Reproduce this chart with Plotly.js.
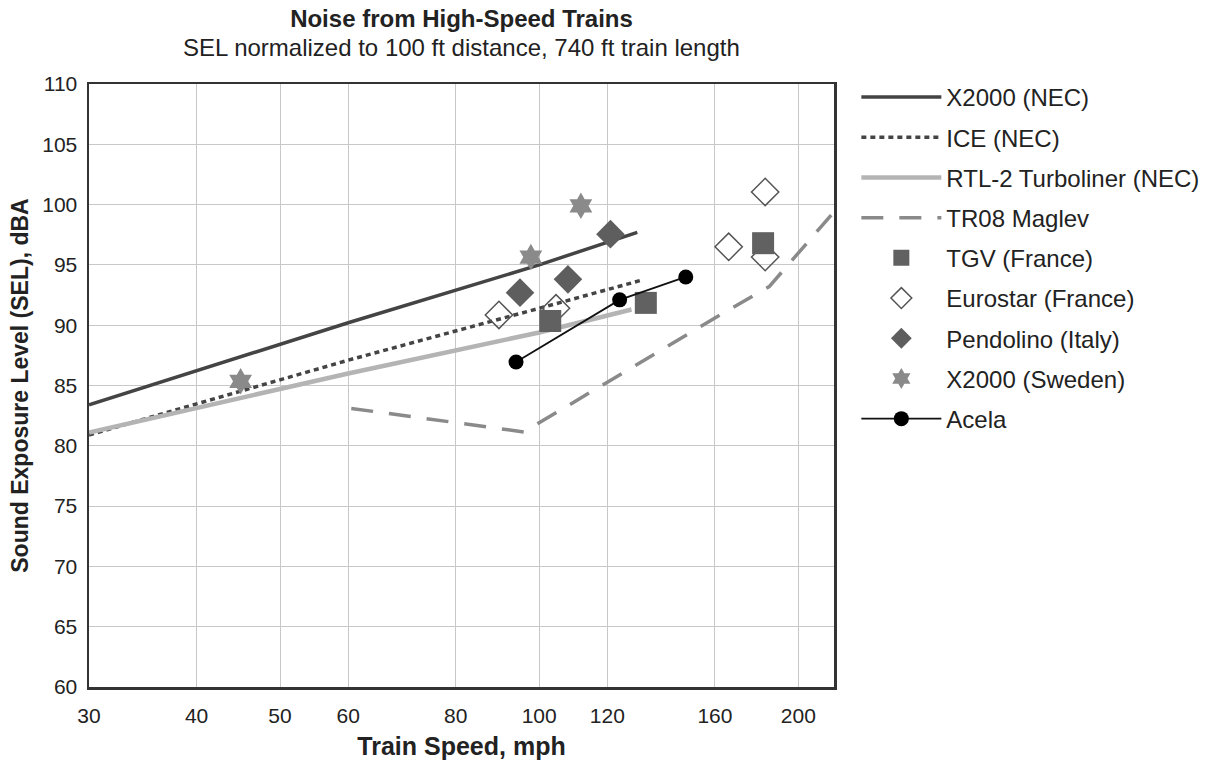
<!DOCTYPE html>
<html>
<head>
<meta charset="utf-8">
<script src="https://cdn.plot.ly/plotly-3.0.1.min.js"></script>
<style>html,body{margin:0;padding:0;background:#fff;}#chart{width:1216px;height:763px;}</style>
</head>
<body>
<div id="chart"></div>
<script>
// Line series (speed mph, SEL dBA)
const x2000NecX = [30, 60, 100, 115, 130];
const x2000NecY = [83.4, 90.2, 95.0, 96.4, 97.7];
const iceNecX = [30, 60, 100, 131];
const iceNecY = [80.9, 87.1, 91.4, 93.7];
const rtl2X = [30, 60, 100, 128];
const rtl2Y = [81.1, 86.0, 89.4, 91.3];
const maglevX = [60.5, 96, 160, 185, 220];
const maglevY = [83.1, 81.15, 90.6, 93.2, 99.4];
// Point series
const tgvX = [103, 133, 182];
const tgvY = [90.35, 91.85, 96.8];
const eurostarX = [89.8, 104.6, 166, 183, 183];
const eurostarY = [90.85, 91.4, 96.5, 101.05, 95.65];
const pendolinoX = [95, 108, 121];
const pendolinoY = [92.7, 93.8, 97.55];
const x2000SweX = [45, 97.8, 111.8];
const x2000SweY = [85.35, 95.65, 99.9];
const acelaX = [94, 124, 148];
const acelaY = [86.95, 92.1, 94.0];

const xTicks = [30, 40, 50, 60, 80, 100, 120, 160, 200];
const yTicks = [60, 65, 70, 75, 80, 85, 90, 95, 100, 105, 110];

const titleText = 'Noise from High-Speed Trains';
const subtitleText = 'SEL normalized to 100 ft distance, 740 ft train length';

const FONT = 'Arial, "Liberation Sans", Helvetica, sans-serif';

const traces = [
  {x: x2000NecX, y: x2000NecY, name: 'X2000 (NEC)', mode: 'lines', legendrank: 1, legendgroup: 'a',
   line: {color: '#444444', width: 3.5}},
  {x: iceNecX, y: iceNecY, name: 'ICE (NEC)', mode: 'lines', legendrank: 2, legendgroup: 'b',
   line: {color: '#444444', width: 3.5, dash: '5px,4px'}},
  {x: rtl2X, y: rtl2Y, name: 'RTL-2 Turboliner (NEC)', mode: 'lines', legendrank: 3, legendgroup: 'c',
   line: {color: '#b4b4b4', width: 4.5}},
  {x: maglevX, y: maglevY, name: 'TR08 Maglev', mode: 'lines', legendrank: 4, legendgroup: 'd',
   line: {color: '#8a8a8a', width: 3.5, dash: '22px,16px'}},
  {x: eurostarX, y: eurostarY, name: 'Eurostar (France)', mode: 'markers', legendrank: 6, legendgroup: 'f',
   marker: {symbol: 'diamond-open', size: 21, color: '#555555', line: {width: 1.5, color: '#555555'}}},
  {x: tgvX, y: tgvY, name: 'TGV (France)', mode: 'markers', legendrank: 5, legendgroup: 'e',
   marker: {symbol: 'square', size: 22, color: '#616161'}},
  {x: pendolinoX, y: pendolinoY, name: 'Pendolino (Italy)', mode: 'markers', legendrank: 7, legendgroup: 'g',
   marker: {symbol: 'diamond', size: 22, color: '#5e5e5e'}},
  {x: x2000SweX, y: x2000SweY, name: 'X2000 (Sweden)', mode: 'markers', legendrank: 8, legendgroup: 'h',
   marker: {symbol: 'hexagram', size: 20, color: '#8a8a8a'}},
  {x: acelaX, y: acelaY, name: 'Acela', mode: 'lines+markers', legendrank: 9, legendgroup: 'i',
   line: {color: '#111111', width: 1.8}, marker: {symbol: 'circle', size: 15, color: '#000000'}}
];

const layout = {
  width: 1216, height: 763,
  margin: {l: 89, r: 380, t: 84, b: 76},
  paper_bgcolor: '#ffffff', plot_bgcolor: '#ffffff',
  font: {family: FONT, color: '#222222', size: 21},
  showlegend: true,
  title: {text: '<b>' + titleText + '</b>',
          xref: 'paper', x: 0.5, xanchor: 'center', yref: 'container', y: 0.976, yanchor: 'middle',
          font: {size: 24, family: FONT, color: '#222'}},
  annotations: [{text: subtitleText, xref: 'paper', yref: 'paper', x: 0.5, y: 1.061,
                 xanchor: 'center', yanchor: 'middle', showarrow: false,
                 font: {size: 24, family: FONT, color: '#222'}}],
  xaxis: {type: 'log', range: [Math.log10(30), Math.log10(220)],
          tickvals: xTicks, ticktext: xTicks.map(String), ticks: '',
          showgrid: true, gridcolor: '#c8c8c8', gridwidth: 1,
          showline: true, mirror: true, linecolor: '#333333', linewidth: 2.5,
          zeroline: false, tickfont: {size: 21, family: FONT}, automargin: false,
          ticklabelstandoff: 8,
          title: {text: '<b>' + 'Train Speed, mph' + '</b>', font: {size: 25, family: FONT}, standoff: 12}},
  yaxis: {range: [60, 110], tickvals: yTicks, ticks: '',
          showgrid: true, gridcolor: '#c8c8c8', gridwidth: 1,
          showline: true, mirror: true, linecolor: '#333333', linewidth: 2.5,
          zeroline: false, tickfont: {size: 21, family: FONT}, automargin: false,
          ticklabelstandoff: 5,
          title: {text: '<b>Sound Exposure Level (SEL), dBA</b>', font: {size: 23, family: FONT}, standoff: 7}},
  legend: {x: 1.03, xanchor: 'left', y: 1.015, yanchor: 'top',
           font: {size: 24, family: FONT, color: '#222'}, tracegroupgap: 6,
           itemwidth: 80, bgcolor: 'rgba(0,0,0,0)', traceorder: 'grouped'}
};

Plotly.newPlot('chart', traces, layout, {displayModeBar: false, staticPlot: true});
</script>
</body>
</html>
